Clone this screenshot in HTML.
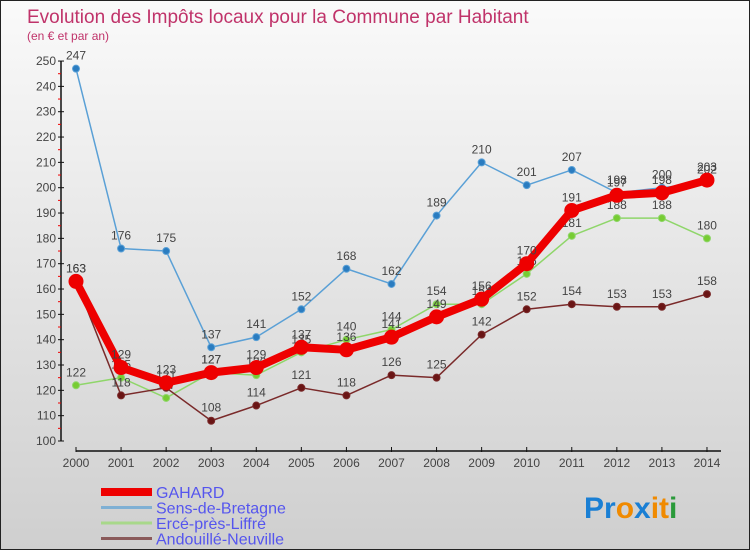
<!DOCTYPE html>
<html><head><meta charset="utf-8"><style>
body{margin:0;}
#wrap{position:relative;width:748px;height:548px;border:1px solid #222;background:linear-gradient(#fafafa,#cfcfcf);overflow:hidden;font-family:"Liberation Sans",sans-serif;}
svg{position:absolute;left:0;top:0;}
</style></head><body>
<div id="wrap">
<svg id="chart" width="750" height="550">
<text x="26" y="22" font-size="19" fill="#c0336a">Evolution des Impôts locaux pour la Commune par Habitant</text>
<text x="26" y="39" font-size="12" fill="#c0336a">(en € et par an)</text>
<g id="axes"></g>
<g id="series"></g>
<g id="legend"></g>
<text x="583" y="517" font-size="30" font-weight="bold"><tspan fill="#1a7fd4">Pr</tspan><tspan fill="#f08a00">o</tspan><tspan fill="#1a7fd4">x</tspan><tspan fill="#f08a00">i</tspan><tspan fill="#f08a00">t</tspan><tspan fill="#2a9a3a">i</tspan></text>
</svg>
</div>
<script>
const years=[2000,2001,2002,2003,2004,2005,2006,2007,2008,2009,2010,2011,2012,2013,2014];
const yTicks=[100,110,120,130,140,150,160,170,180,190,200,210,220,230,240,250];
const gahard=[163,129,123,127,129,137,136,141,149,156,170,191,197,198,203];
const sens=[247,176,175,137,141,152,168,162,189,210,201,207,198,200,202];
const erce=[122,125,117,127,126,135,140,144,154,154,166,181,188,188,180];
const andouille=[163,118,121,108,114,121,118,126,125,142,152,154,153,153,158];
const NS='http://www.w3.org/2000/svg';
function X(i){return 75+i*45.07;}
function Y(v){return 440-(v-100)*2.533;}
function mk(tag,attrs,parent){const e=document.createElementNS(NS,tag);for(const k in attrs)e.setAttribute(k,attrs[k]);parent.appendChild(e);return e;}
const axes=document.getElementById('axes');
let ya=mk('line',{x1:60,y1:Y(250),x2:60,y2:Y(100),stroke:'#111','stroke-width':1.5},axes);


yTicks.forEach(v=>{
 mk('line',{x1:57,y1:Y(v),x2:63,y2:Y(v),stroke:'#111'},axes);
 mk('line',{x1:57,y1:Y(v+5),x2:60,y2:Y(v+5),stroke:v<250?'#e00':'none'},axes);
 let t=mk('text',{x:55,y:Y(v)+4,'font-size':12,fill:'#444','text-anchor':'end'},axes);
 t.textContent=v;
 
 
});
let xa=mk('line',{x1:75,y1:450,x2:720,y2:450,stroke:'#111','stroke-width':1.5},axes);


years.forEach((y,i)=>{
 mk('line',{x1:X(i),y1:446,x2:X(i),y2:451,stroke:'#111'},axes);
 let t=mk('text',{x:X(i),y:466,'font-size':12,fill:'#444','text-anchor':'middle'},axes);
 t.textContent=y;
 
 
});
const ser=document.getElementById('series');
function draw(vals,color,w,r,name,dotColor){
 const g=mk('g',{},ser);
 
 
 const p=mk('polyline',{points:vals.map((v,i)=>X(i)+','+Y(v)).join(' '),fill:'none',stroke:color,'stroke-width':w,'stroke-linejoin':'round'},g);
 
 
 vals.forEach((v,i)=>{
  const c=mk('circle',{cx:X(i),cy:Y(v),r:r,fill:dotColor,stroke:color,'stroke-width':1},g);
  
  
  const t=mk('text',{x:X(i),y:Y(v)-9,'font-size':12,fill:'#444','text-anchor':'middle'},g);
  t.textContent=v;
  
  
 });
}
draw(erce,'#8fd66a',1.5,3.5,'erce','#77cc33');
draw(sens,'#5aa0d6',1.5,3.5,'sens','#2a7cc0');
draw(andouille,'#7a2a2a',1.5,3.5,'andouille','#6a1515');
draw(gahard,'#ee0000',8,7,'gahard','#ee0000');
const leg=document.getElementById('legend');
const items=[['GAHARD','#ee0000',8],['Sens-de-Bretagne','#7fb0d4',3],['Ercé-près-Liffré','#a8d88a',3],['Andouillé-Neuville','#8a5a5a',3]];
items.forEach((it,i)=>{
 const y=491+i*15.5;
 const g=mk('g',{},leg);
 
 
 mk('line',{x1:100,y1:y,x2:151,y2:y,stroke:it[1],'stroke-width':it[2]},g);
 const t=mk('text',{x:155,y:y+6,'font-size':16,fill:'#5555ee'},g);
 t.textContent=it[0];
});
</script>
</body></html>
